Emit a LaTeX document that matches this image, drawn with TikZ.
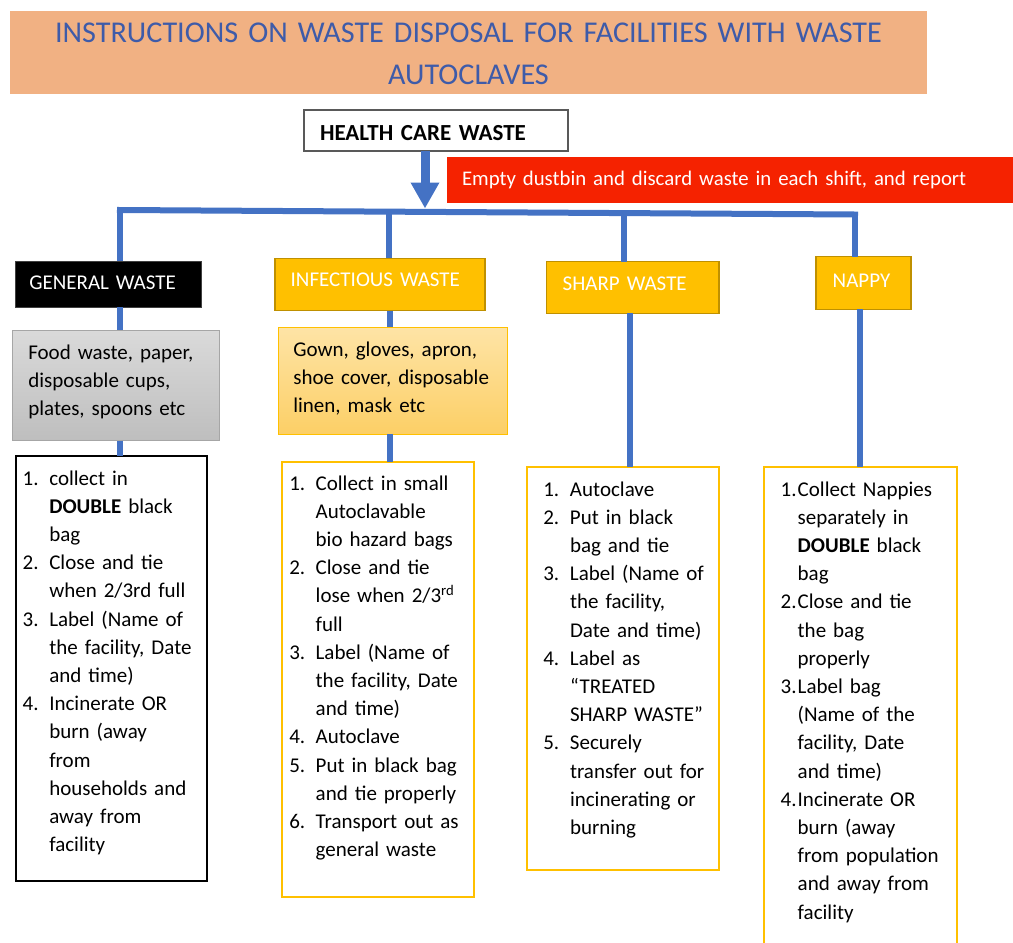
\documentclass[tikz,border=0pt]{standalone}
\usepackage{fontspec}
\setmainfont{Carlito}
\usetikzlibrary{arrows.meta,calc}
\definecolor{lineblue}{HTML}{4472C4}
\definecolor{titlefill}{HTML}{F1B183}
\definecolor{titletext}{HTML}{3E5BA9}
\definecolor{redfill}{HTML}{F52200}
\definecolor{gold}{HTML}{FFC000}
\definecolor{golddark}{HTML}{BF9000}
\definecolor{greytop}{HTML}{DADADA}
\definecolor{greybot}{HTML}{BEBEBE}
\definecolor{greyedge}{HTML}{A6A6A6}
\definecolor{orangetop}{HTML}{FEE4A6}
\definecolor{orangebot}{HTML}{FCCF66}
\newlength\liind
\newcommand\Li[2]{\noindent\makebox[\liind][l]{#1}\mbox{#2}\par}
\tikzset{
  bx/.style n args={4}{anchor=north west, inner ysep=0pt, inner xsep=#1pt,
    text width=#2pt, text height=#3pt, text depth=#4pt, align=left, outer sep=0pt},
  body/.style={font=\fontsize{21}{28.2}\selectfont},
  hdrgold/.style={fill=gold, draw=golddark, line width=1.5pt, text=white, body},
  listbox/.style={line width=2pt, body},
  blueline/.style={draw=lineblue, line width=6pt},
  bluearrow/.style={draw=lineblue, line width=9pt, -{Triangle[width=27pt,length=26pt]}, fill=lineblue}
}
\begin{document}
\begin{tikzpicture}[x=1pt,y=-1pt]
\useasboundingbox (0,0) rectangle (1013,943);

% title
\node[bx={0}{917}{31.5}{51.8}, align=center, fill=titlefill, text=titletext,
  font=\fontsize{30.2}{41.6}\selectfont] (title) at (10,11)
  {INSTRUCTIONS ON WASTE DISPOSAL FOR FACILITIES WITH WASTE\\AUTOCLAVES};

% health care waste
\node[bx={16}{232}{30.7}{10.3}, draw=black!65, line width=1.2pt,
  font=\fontsize{23}{27}\selectfont\bfseries] (health) at (304,110)
  {\mbox{HEALTH CARE WASTE}};

% red note
\node[bx={15}{536}{28.5}{17.8}, fill=redfill, text=white,
  font=\fontsize{20.8}{26}\selectfont] (note) at (447,157)
  {\mbox{Empty dustbin and discard waste in each shift, and report}};

% general waste column
\node[bx={13.6}{158.1}{28}{18.3}, fill=black, draw=black!75, line width=1pt, text=white, body] (genh) at (15.7,261)
  {\mbox{GENERAL WASTE}};
\node[bx={16}{174.7}{29.3}{81.4}, top color=greytop, bottom color=greybot, draw=greyedge, line width=1pt, body] (gend) at (12.3,330)
  {Food waste, paper,\par disposable cups,\par plates, spoons etc};
\node[bx={7}{177.6}{29}{395.7}, draw=black, listbox] (genl) at (15.7,456)
  {\setlength\liind{26.6pt}%
   \Li{1.}{collect in}\Li{}{\textbf{DOUBLE} black}\Li{}{bag}%
   \Li{2.}{Close and tie}\Li{}{when 2/3rd full}%
   \Li{3.}{Label (Name of}\Li{}{the facility, Date}\Li{}{and time)}%
   \Li{4.}{Incinerate OR}\Li{}{burn (away}\Li{}{from}\Li{}{households and}\Li{}{away from}\Li{}{facility}};

% infectious waste column
\node[bx={15.7}{178.6}{28.4}{24}, hdrgold] (infh) at (275,258.3)
  {\mbox{INFECTIOUS WASTE}};
\node[bx={15}{199.4}{28.7}{78}, top color=orangetop, bottom color=orangebot, draw=gold, line width=1pt, body] (infd) at (278.3,327.3)
  {Gown, gloves, apron,\par shoe cover, disposable\par linen, mask etc};
\node[bx={7.3}{177.4}{28.3}{406.7}, draw=gold, listbox] (infl) at (282,461.7)
  {\setlength\liind{26.4pt}%
   \Li{1.}{Collect in small}\Li{}{Autoclavable}\Li{}{bio hazard bags}%
   \Li{2.}{Close and tie}\Li{}{lose when 2/3\textsuperscript{rd}}\Li{}{full}%
   \Li{3.}{Label (Name of}\Li{}{the facility, Date}\Li{}{and time)}%
   \Li{4.}{Autoclave}%
   \Li{5.}{Put in black bag}\Li{}{and tie properly}%
   \Li{6.}{Transport out as}\Li{}{general waste}};

% sharp waste column
\node[bx={16}{140.3}{29}{22.6}, hdrgold] (sharph) at (546.7,261.7)
  {\mbox{SHARP WASTE}};
\node[bx={16}{159.7}{28.7}{374}, draw=gold, listbox] (sharpl) at (527.3,467.3)
  {\setlength\liind{26.7pt}%
   \Li{1.}{Autoclave}%
   \Li{2.}{Put in black}\Li{}{bag and tie}%
   \Li{3.}{Label (Name of}\Li{}{the facility,}\Li{}{Date and time)}%
   \Li{4.}{Label as}\Li{}{“TREATED}\Li{}{SHARP WASTE”}%
   \Li{5.}{Securely}\Li{}{transfer out for}\Li{}{incinerating or}\Li{}{burning}};

% nappy column
\node[bx={16.7}{61.6}{31}{21.6}, hdrgold] (nappyh) at (816,256.7)
  {\mbox{NAPPY}};
\node[bx={16.7}{159.3}{28.7}{461.3}, draw=gold, listbox] (nappyl) at (764,467.3)
  {\setlength\liind{17pt}%
   \Li{1.}{Collect Nappies}\Li{}{separately in}\Li{}{\textbf{DOUBLE} black}\Li{}{bag}%
   \Li{2.}{Close and tie}\Li{}{the bag}\Li{}{properly}%
   \Li{3.}{Label bag}\Li{}{(Name of the}\Li{}{facility, Date}\Li{}{and time)}%
   \Li{4.}{Incinerate OR}\Li{}{burn (away}\Li{}{from population}\Li{}{and away from}\Li{}{facility}};

% connectors
\coordinate (jg) at (120,210);
\coordinate (ji) at (389,211.5);
\coordinate (js) at (624,213);
\coordinate (jn) at (855,214.5);
\coordinate (ha) at (425,208.5);
\coordinate (sb) at (630,0);
\coordinate (nb) at (860,0);
\coordinate (ib) at (390,0);

\draw[bluearrow] (health.south -| ha) -- (ha);
\draw[blueline, line cap=rect] (jg) -- (jn);
\draw[blueline] (jg) -- (jg |- genh.north);
\draw[blueline] (genh.south -| jg) -- (gend.north -| jg);
\draw[blueline] (gend.south -| jg) -- (genl.north -| jg);
\draw[blueline] (ji) -- (ji |- infh.north);
\draw[blueline] (infh.south -| ib) -- (infd.north -| ib);
\draw[blueline] (infd.south -| ib) -- (infl.north -| ib);
\draw[blueline] (js) -- (js |- sharph.north);
\draw[blueline] (sharph.south -| sb) -- (sharpl.north -| sb);
\draw[blueline] (jn) -- (jn |- nappyh.north);
\draw[blueline] (nappyh.south -| nb) -- (nappyl.north -| nb);
\end{tikzpicture}
\end{document}
